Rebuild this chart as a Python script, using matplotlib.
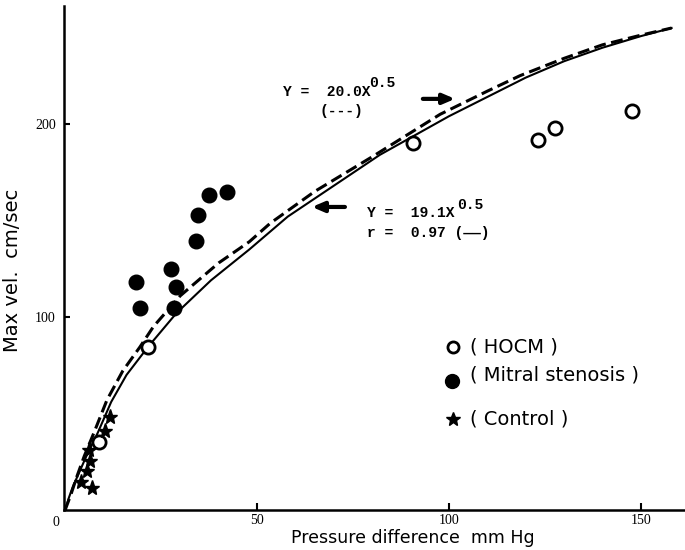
import matplotlib
matplotlib.use("Agg")
import matplotlib.pyplot as plt

# values
hocm_x = [8.85, 21.5, 90.6, 123.1, 127.6, 147.6]
hocm_y = [35.2, 84.6, 190.2, 191.7, 197.8, 206.7]

ms_x = [18.5, 19.5, 27.6, 28.9, 28.4, 34.1, 34.6, 37.5, 42.2]
ms_y = [118.1, 104.7, 124.9, 115.5, 104.7, 139.4, 152.8, 163.2, 164.8]

ctrl_x = [11.7, 10.4, 6.1, 6.5, 5.6, 4.1, 7.1]
ctrl_y = [48.3, 41.1, 31.1, 25.4, 20.2, 14.7, 11.6]

# fitted curves as drawn (Y = 19.1X^0.5 solid, Y = 20.0X^0.5 dashed)
solid_x = [0, 1, 2, 4, 6, 8.5, 12, 16, 21.6, 29, 38, 48, 58, 70, 82, 91, 100, 110, 120, 130, 140, 150, 158]
solid_y = [0, 6.5, 12, 21, 30, 40, 56, 70, 84.5, 102, 119, 135, 152, 168, 184, 194, 204, 214, 224, 232.5, 239.5, 245.5, 249.7]
dash_x = [0, 1.5, 3, 5, 7.5, 10.9, 15, 19.5, 23, 30, 40, 48, 53.4, 65, 80, 97.7, 110, 118.5, 130, 140, 150, 158]
dash_y = [0, 8, 17, 28, 40, 57, 72, 84.5, 95, 111, 128, 139, 148.5, 165, 183, 205, 217, 225, 234, 241, 246, 249.7]

x_ticks = [50, 100, 150]
y_ticks = [100, 200]

label_font = ["DejaVu Sans"]
mono_font = ["Liberation Mono", "DejaVu Sans Mono"]
tick_font = ["Liberation Serif", "DejaVu Serif"]

fig = plt.figure(figsize=(6.85, 5.5), dpi=100)
ax = fig.add_axes([0.0934, 0.0727, 0.9066, 0.916])
ax.set_xlim(-0.3, 161.5)
ax.set_ylim(0, 261)

ax.plot(solid_x, solid_y, color="black", lw=1.5)
ax.plot(dash_x, dash_y, color="black", lw=2.2, linestyle=(0, (3.9, 1.8)))

ax.plot(hocm_x, hocm_y, "o", mfc="white", mec="black", mew=2, ms=9.5, ls="none")
ax.plot(ms_x, ms_y, "o", color="black", ms=10.5, ls="none")
ax.plot(ctrl_x, ctrl_y, "*", color="black", ms=11, ls="none")

for s in ["top", "right"]:
    ax.spines[s].set_visible(False)
for s in ["left", "bottom"]:
    ax.spines[s].set_linewidth(1.8)

ax.set_xticks(x_ticks)
ax.set_yticks(y_ticks)
ax.set_xticklabels([str(t) for t in x_ticks], family=tick_font, fontsize=10)
ax.set_yticklabels([str(t) for t in y_ticks], family=tick_font, fontsize=10)
ax.tick_params(axis="x", direction="in", length=5, width=1.5, pad=3)
ax.tick_params(axis="y", direction="in", length=4, width=1.5, pad=6)
ax.text(-2.5, -3, "0", family=tick_font, fontsize=10, ha="center", va="top")

ax.set_xlabel("Pressure difference  mm Hg", family=label_font, fontsize=12.5)
ax.xaxis.set_label_coords(0.562, -0.038)
ax.set_ylabel("Max vel.  cm/sec", family=label_font, fontsize=14)
ax.yaxis.set_label_coords(-0.068, 0.476)

# equation annotations
ax.text(56.8, 216.6, "Y =  20.0X", family=mono_font, weight="bold", fontsize=10.5, va="center")
ax.text(79.3, 221.2, "0.5", family=mono_font, weight="bold", fontsize=10.5, va="center")
ax.text(72.1, 206.7, "(---)", family=mono_font, weight="bold", fontsize=10.5, va="center", ha="center")
ax.text(78.6, 153.9, "Y =  19.1X", family=mono_font, weight="bold", fontsize=10.5, va="center")
ax.text(102.2, 157.8, "0.5", family=mono_font, weight="bold", fontsize=10.5, va="center")
ax.text(78.6, 143.5, "r =  0.97 (\u2014\u2014)", family=mono_font, weight="bold", fontsize=10.5, va="center")

arrow = dict(arrowstyle="-|>,head_length=0.7,head_width=0.3", lw=3, color="black", shrinkA=0, shrinkB=0)
ax.annotate("", xy=(101.6, 213), xytext=(93.2, 213), arrowprops=arrow)
ax.annotate("", xy=(64.3, 157), xytext=(72.9, 157), arrowprops=arrow)

# hand-placed key
ax.plot([101.0], [84.5], "o", mfc="white", mec="black", mew=2, ms=8)
ax.text(105.5, 84.5, "( HOCM )", family=label_font, fontsize=14, va="center")
ax.plot([100.8], [66.8], "o", color="black", ms=10)
ax.text(105.5, 70.0, "( Mitral stenosis )", family=label_font, fontsize=14, va="center")
ax.plot([101.0], [47.2], "*", color="black", ms=10)
ax.text(105.5, 47.2, "( Control )", family=label_font, fontsize=14, va="center")

fig.savefig("out.png", dpi=100)
